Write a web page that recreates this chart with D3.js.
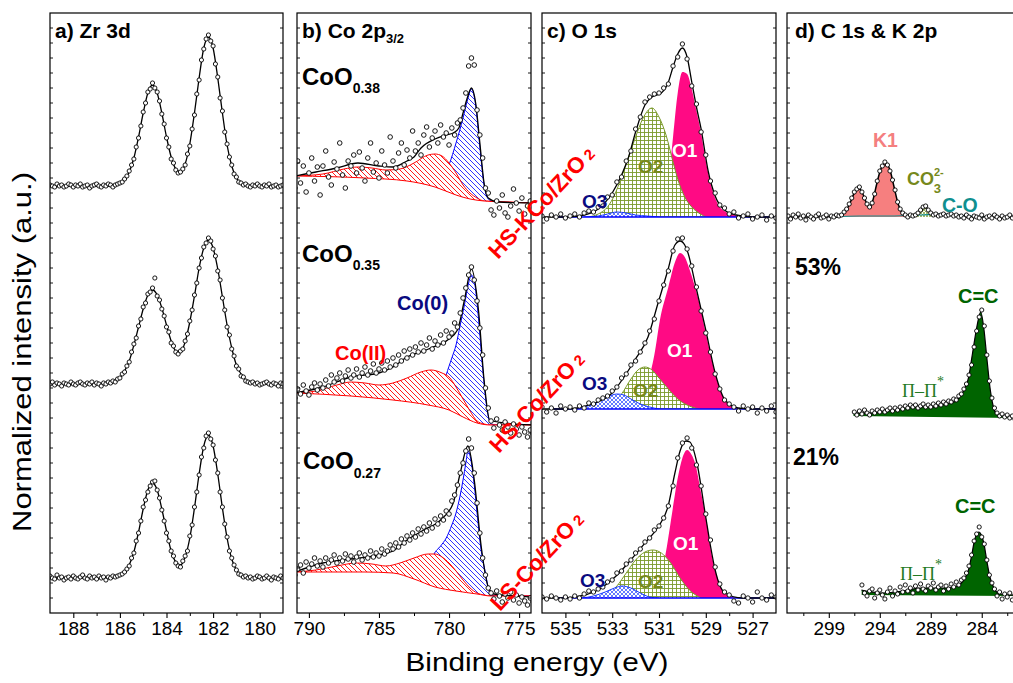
<!DOCTYPE html>
<html><head><meta charset="utf-8">
<script src="https://cdn.jsdelivr.net/npm/d3@7"></script>
<style>body{margin:0;background:#fff}svg{display:block;font-family:"Liberation Sans",Arial,sans-serif}</style>
</head><body>
<svg id="chart" width="1013" height="683"></svg>
<script>
// ---------------- DATA ----------------
// Panel a: Zr 3d, grid start/step (eV), heights above each spectrum's baseline
const zrStart = 189, zrStep = 0.2, zrDataStep = 0.1;
const zrOffset = [427, 229, 35];
const zrFitTop = [0,0,0,0,0,0,0,0,0,0, 0,0,0,0,1,2,6,14,28,49, 73,93,101,93,73,49,29,17,14,22, 42,73,108,138,149,138,108,73,41,20, 8,3,1,0,0,0,0,0,0,0, 0];
const zrFitMid = [0,0,0,0,0,0,0,0,0,0, 0,0,0,1,3,6,13,23,39,57, 75,89,94,89,76,59,43,33,32,42, 62,88,116,136,144,136,115,87,59,36, 19,10,4,2,1,0,0,0,0,0, 0];
const zrFitBot = [0,0,0,0,0,0,0,0,0,0, 0,0,0,0,1,2,5,13,26,46, 69,88,95,88,69,47,27,16,13,21, 40,70,104,132,143,132,104,70,40,19, 8,3,1,0,0,0,0,0,0,0, 0];
const zrDataTop = [1,0,-1,2,0,1,-1,0,2,1, -1,1,0,2,-1,0,1,-2,0,1, 2,0,-1,1,0,2,1,-1,1,2, 3,4,7,10,15,21,27,39,48,60, 74,83,94,97,103,98,94,85,72,62, 48,39,27,23,16,13,14,17,21,32, 40,57,71,92,106,126,137,147,151,145, 140,122,109,88,75,54,42,29,21,12, 9,4,3,1,2,0,-1,1,0,2, 0,-1,1,0,2,-1,0,1,-1,0,1];
const zrDataMid = [0,2,-1,1,0,-2,1,0,-1,2, 0,-1,1,2,0,-1,1,0,2,-1, 1,0,-2,1,0,2,1,3,2,5, 6,10,12,18,22,32,40,46,58,65, 77,81,90,92,96,106,88,84,75,68, 57,52,41,38,32,30,33,35,43,50, 63,74,89,101,116,126,137,141,146,143, 135,128,113,104,86,74,57,49,35,28, 18,15,8,7,3,2,1,2,0,1, -1,0,1,2,0,-1,1,0,-2,1,0];
const zrDataBot = [2,0,-1,3,0,1,-2,0,1,-1, 2,0,-1,1,3,0,-1,2,0,1, -1,2,0,1,-2,1,0,2,1,2, 3,4,6,9,12,20,25,37,45,57, 71,78,86,92,96,97,88,80,68,57, 45,37,27,22,15,12,11,17,22,27, 42,53,71,86,103,121,130,142,145,139, 133,118,105,86,71,54,41,27,20,13, 8,4,3,1,2,0,1,-1,0,2, 1,-1,0,2,0,-2,1,0,-1,2,0];

// Panel b: Co 2p3/2, [eV, intensity]
const coBgTop = [[791,437],[786,435],[783,432],[781,426],[779.5,418],[778.5,414],[777.5,412],[776,411],[774,410]];
const coIITop = [[791,437],[789,439],[787.5,444],[786.5,446],[785.5,445],[784.5,443],[783.5,444],[782.5,450],[781.5,458],[781,459],[780.5,457],[780,450],[779.5,440],[779,428],[778.5,420],[778,415],[777.5,412],[776,411],[774,410]];
const co0Top = [[781.5,428],[781,426],[780.5,431],[780,448],[779.5,470],[779,495],[778.7,512],[778.4,524],[778.1,508],[777.8,466],[777.5,428],[777.2,414],[776.8,411],[774,410]];
const coFitTop = [[791,437],[789.5,441],[788,445],[786.5,450],[785,447],[784,446],[783,452],[782.5,456],[782,465],[781,474],[780.2,478],[779.7,480],[779.3,485],[779,500],[778.7,515],[778.4,525],[778.1,510],[777.8,470],[777.5,430],[777.2,415],[776.5,411],[774,410]];
const coBgMid = [[791,220],[787,217],[784,213],[781.5,208],[780,203],[779,196],[778,190],[777,188],[774,188]];
const coIIMid = [[791,220],[789.5,222],[788,228],[787,231],[786,230],[785,228],[784,230],[783,235],[782,241],[781.3,243],[780.5,240],[780,236],[779.5,226],[779,214],[778.5,202],[778,192],[777.5,189],[777,188],[774,188]];
const co0Mid = [[781.5,208],[781,212],[780.5,222],[780.2,238],[779.8,255],[779.5,268],[779.2,288],[778.9,308],[778.6,330],[778.4,338],[778.2,332],[777.9,295],[777.6,245],[777.3,205],[777,189],[776.5,188],[774,188]];
const coFitMid = [[791,220],[789,226],[787,236],[785,240],[784,246],[783,256],[782,261],[781.3,265],[780.1,273],[779.4,283],[778.9,313],[778.4,344],[777.9,303],[777.5,233],[777.1,193],[776,190],[774,188]];
const coBgBot = [[791,41],[786,41],[784,40],[782.5,34],[781,26],[779.5,22],[778,19],[777,17],[774,17]];
const coIIBot = [[791,41],[789.5,43],[788,47],[786.6,50],[785.5,49],[784.5,47],[783.5,50],[782.5,55],[781.5,59],[781,59],[780.5,56],[780,50],[779.5,42],[779,33],[778.5,25],[778,20],[777.5,18],[777,17],[774,17]];
const co0Bot = [[782,32],[781.5,40],[781.1,58],[780.6,67],[780.2,75],[779.8,88],[779.5,100],[779.2,118],[779,133],[778.8,150],[778.65,162],[778.4,150],[778.2,128],[778,100],[777.7,62],[777.4,40],[777.2,25],[777,18],[776.5,17],[774,17]];
const coFitBot = [[791,41],[789,50],[787,54],[785,58],[784,62],[783,73],[781.8,83],[780.6,93],[779.7,110],[779.2,140],[778.65,167],[778.2,133],[777.7,66],[777.2,26],[776.8,19],[774,16]];
const coStart = 791, coStep = 0.2;
const coDataTop = [425,452,430,447,421,440,455,432,446,418, 447,462,436,428,451,444,470,438,425,452, 447,458,440,461,445,432,455,470,441,450, 435,462,448,440,476,452,445,460,470,448, 463,455,482,462,470,458,478,486,466,475, 482,470,488,476,480,468,485,478,490,493, 505,520,547,555,548,503,478,455,425,420, 403,398,412,405,418,400,396,407,424,410, 402,415,399,407,412,404];
const coDataMid = [215,224,219,228,222,218,226,230,223,229, 225,233,227,238,231,235,240,232,237,243, 235,238,244,236,240,246,238,242,249,240, 244,250,243,252,246,255,248,258,252,262, 255,264,258,266,261,270,262,268,275,264, 272,268,278,270,282,276,280,290,286,300, 315,325,338,346,333,312,285,258,225,205, 192,185,194,188,183,191,186,180,189,184, 178,186,181,176,183,179];
const coDataBot = [38,44,48,40,51,45,49,55,47,52, 46,55,50,53,58,50,55,52,59,54, 57,51,56,60,53,58,55,62,56,60, 57,64,59,62,68,64,70,66,74,70, 77,73,80,76,84,79,86,82,90,85, 94,89,97,93,102,99,112,118,128,140, 150,162,174,165,140,110,80,55,38,25, 20,14,22,17,11,19,15,21,13,18, 10,16,12,8,15,11];

// Panel c: O 1s, heights above baseline [eV, h]
const oOffset = [396, 204, 15];
const o1Top = [[531.0,0],[530.8,10],[530.6,35],[530.4,80],[530.2,124],[530.0,145],[529.8,143],[529.6,128],[529.4,106],[529.2,84],[529.0,56],[528.8,34],[528.6,19],[528.4,10],[528.2,6],[527.8,2],[527.4,0]];
const o2Top = [[534.0,0],[533.6,3],[533.2,10],[532.9,22],[532.6,40],[532.3,60],[532.0,80],[531.7,98],[531.3,109],[531.0,100],[530.7,82],[530.4,55],[530.2,38],[529.9,20],[529.6,10],[529.3,4],[529.0,0]];
const o3Top = [[534.2,0],[533.6,1],[533.2,3],[532.8,5],[532.4,4],[532.0,2],[531.5,1],[531.0,0]];
const oFitTop = [[536,0],[535,0],[534.2,2],[533.6,8],[533.0,24],[532.6,42],[532.3,60],[532.0,85],[531.6,112],[531.3,120],[530.9,124],[530.6,135],[530.4,150],[530.2,163],[530.0,169],[529.8,160],[529.6,135],[529.4,110],[529.2,88],[528.9,46],[528.6,21],[528.2,7],[527.7,2],[527,0],[526,0]];
const o1Mid = [[532.2,0],[531.8,8],[531.5,25],[531.2,54],[530.96,89],[530.6,122],[530.3,148],[530.1,156],[529.9,152],[529.7,140],[529.46,122],[529.2,98],[529.03,79],[528.8,55],[528.6,36],[528.4,20],[528.18,9],[527.9,3],[527.6,0]];
const o2Mid = [[533.4,0],[533.0,5],[532.6,15],[532.2,30],[531.9,39],[531.6,42],[531.3,39],[531.0,31],[530.6,20],[530.2,10],[529.8,4],[529.3,0]];
const o3Mid = [[534.6,0],[534.2,2],[533.8,5],[533.4,10],[533.0,14],[532.8,15],[532.5,14],[532.2,10],[531.8,5],[531.4,2],[531.0,0]];
const oFitMid = [[536,0],[535,0],[534.5,1],[534,4],[533.44,9],[533,16],[532.58,29],[532.03,49],[531.47,72],[531.04,106],[530.62,139],[530.32,164],[530.1,168],[529.9,164],[529.76,156],[529.46,126],[529.03,82],[528.6,36],[528.18,9],[527.62,1],[527,0],[526,0]];
const o1Bot = [[531.6,0],[531.2,8],[530.9,25],[530.74,41],[530.44,85],[530.2,120],[530.0,140],[529.8,148],[529.6,143],[529.46,135],[529.2,105],[529.03,85],[528.73,41],[528.5,20],[528.3,8],[528.0,2],[527.7,0]];
const o2Bot = [[533.7,0],[533.2,4],[532.8,12],[532.4,25],[532.0,38],[531.6,46],[531.26,48],[530.9,45],[530.5,35],[530.1,20],[529.7,8],[529.2,0]];
const o3Bot = [[534.3,0],[533.8,2],[533.3,6],[532.9,10],[532.58,12],[532.2,10],[531.8,5],[531.4,1],[531.0,0]];
const oFitBot = [[536,0],[535,0],[534.6,1],[534.16,3],[533.6,8],[533.18,15],[532.7,25],[532.32,35],[531.6,55],[531.04,71],[530.62,91],[530.32,125],[530.1,147],[529.85,157],[529.68,156],[529.38,135],[529.03,85],[528.8,52],[528.6,28],[528.18,5],[527.45,0],[526,0]];
const oStart = 536, oStep = 0.2;
const oDataTop = [1,-2,2,0,3,-1,1,3,0,4, 6,5,10,11,20,22,35,40,56,66, 88,100,115,120,123,124,129,133,151,160, 173,158,131,113,85,62,36,24,12,9, 3,5,-1,1,3,-2,0,2,-3,1, -1];
const oDataMid = [2,-3,1,-4,3,0,2,-1,3,1, 6,5,9,11,13,18,22,31,35,44, 48,57,66,78,90,108,124,138,158,170, 171,160,143,122,98,76,57,35,20,9, 5,2,-2,3,0,2,-4,1,-2,3, -3];
const oDataBot = [1,-1,2,0,-2,1,-1,2,0,4, 7,6,9,11,16,18,25,27,34,38, 45,49,56,60,68,72,80,92,112,140, 155,160,150,133,112,84,58,31,14,6, 3,-3,-5,2,0,-4,6,0,-2,3, 1];

// Panel d: C 1s & K 2p
const dOffsetTop = 396;
const k1Top = [[298.2,0],[297.6,3],[297.0,12],[296.5,24],[296.1,29],[295.7,24],[295.3,14],[295.0,10],[294.7,16],[294.3,33],[293.9,48],[293.4,54],[293.0,47],[292.6,30],[292.2,13],[291.8,4],[291.4,0]];
const co3Top = [[290.6,0],[290.2,4],[289.8,8],[289.6,10],[289.4,8],[289.0,4],[288.6,0]];
const cOTop = [[298.5,0],[296,1],[293,1],[290,2],[288,3],[286.5,2],[285,1],[283.5,0]];
const dFitTop = [[303,0],[298.2,0],[297.6,3],[297.0,12],[296.5,24],[296.1,29],[295.7,24],[295.3,14],[295.0,10],[294.7,16],[294.3,33],[293.9,48],[293.4,54],[293.0,47],[292.6,30],[292.2,13],[291.8,4],[291.4,1],[290.6,1],[290.2,5],[289.8,9],[289.6,11],[289.4,9],[289.0,5],[288.6,2],[287.5,2],[286.5,2],[285.5,0],[280,0]];
const dBgMid = [[296.6,197],[280,195]];
const dFitMid = [[296.6,200],[295,200],[293.9,201],[292.5,203],[291.2,206],[290.2,206],[289,206],[288,208],[287,210],[286.3,214],[285.8,222],[285.3,235],[284.9,260],[284.5,285],[284.1,301],[283.8,285],[283.5,255],[283.2,226],[282.9,208],[282.6,200],[282,198],[280.8,196],[280,196]];
const dBgBot = [[295.8,18],[280,17]];
const dFitBot = [[295.8,23],[294.8,21],[293.9,20],[292.5,21],[291.2,23],[290,25],[288.9,25],[287.8,25],[286.7,26],[286,30],[285.6,36],[285.3,43],[285,57],[284.7,73],[284.3,81],[284,77],[283.8,70],[283.5,52],[283.2,36],[282.8,25],[282.4,20],[281.5,18],[280,18]];
const dStep = 0.25;
const dStartTop = 303, dStartMid = 296.5, dStartBot = 295.75;
const dDataTop = [1,-2,2,0,3,-1,1,-3,2,0, -2,1,3,-1,0,2,-2,1,0,2, 1,2,5,8,13,19,25,28,30,25, 19,13,10,14,23,36,46,51,55,52, 46,37,27,15,8,4,2,0,2,1, 2,4,7,10,11,7,4,2,3,1, 2,3,1,2,3,1,2,0,1,-1, 2,0,-2,1,0,-1,2,-2,0,1, -1,2,0,-2,1,-1,0,2,-1,1, -2,0,1];
const dDataMid = [201,198,202,199,203,200,198,202,200,203, 201,204,201,203,205,202,205,203,206,204, 207,205,208,206,208,205,207,209,206,208, 206,209,207,210,208,211,209,212,211,214, 213,217,219,224,229,238,248,266,282,296, 303,287,258,232,215,205,200,197,199,196, 198,195,197,194,197,195,196];
const dDataBot = [28,20,17,22,24,15,20,23,18,14, 21,25,17,22,19,26,21,28,22,25, 20,27,23,29,24,22,27,25,30,23, 26,28,22,27,24,29,26,31,28,33, 35,40,47,58,72,79,86,76,69,53, 38,30,24,17,21,14,19,16,20,13, 18,15,19,17];

// Tick labels
const ticksA = [188,186,184,182,180], minorA = [187,185,183,181];
const ticksB = [790,785,780,775], minorB = [787.5,782.5,777.5];
const ticksC = [535,533,531,529,527], minorC = [534,532,530,528];
const ticksD = [299,294,289,284], minorD = [301.5,296.5,291.5,286.5,281.5];

// ---------------- DRAWING ----------------
const FONT = '"Liberation Sans",Arial,sans-serif';
const svg = d3.select('#chart');
const defs = svg.append('defs');
const TOP = 13, BOT = 613;
const y = d3.scaleLinear().domain([0, 600]).range([BOT, TOP]);
const xA = d3.scaleLinear().domain([189, 179]).range([50, 283]);
const xB = d3.scaleLinear().domain([790.85, 774.15]).range([297, 531]);
const xC = d3.scaleLinear().domain([536, 526]).range([542, 776]);
const xD = d3.scaleLinear().domain([303.1, 280.15]).range([787, 1021]);

function pattern(id, s, d, color, sw) {
  const p = defs.append('pattern').attr('id', id).attr('patternUnits', 'userSpaceOnUse').attr('width', s).attr('height', s);
  p.append('rect').attr('width', s).attr('height', s).attr('fill', '#fff');
  p.append('path').attr('d', d).attr('stroke', color).attr('stroke-width', sw).attr('fill', 'none');
}
pattern('hRed', 5, 'M-1,-1L6,6M-1,4L1,6M4,-1L6,1', '#ff0000', 0.9);
pattern('hBlue', 5, 'M-1,-1L6,6M-1,4L1,6M4,-1L6,1', '#1a1aff', 0.9);
pattern('gOlive', 4, 'M0,0.5H4M0.5,0V4', '#7a9a2a', 0.9);
pattern('xBlue', 4, 'M-1,-1L5,5M5,-1L-1,5', '#2040ff', 0.7);
pattern('xOlive', 3, 'M-1,-1L4,4M4,-1L-1,4', '#7a9a2a', 0.7);

const lineFor = x => d3.line().x(d => x(d[0])).y(d => y(d[1])).curve(d3.curveMonotoneX);
const off = (pts, o) => pts.map(p => [p[0], p[1] + o]);
const grid = (start, step, vals, o) => vals.map((v, i) => [start - i * step, v + (o || 0)]);
let cid = 0;
function band(g, x, topPts, botPts, fill, stroke, sw) {
  const L = lineFor(x), id = 'bc' + (cid++);
  const b0 = x(botPts[0][0]), b1 = x(botPts[botPts.length - 1][0]);
  defs.append('clipPath').attr('id', id).append('path').attr('d', L(botPts) + `L${b1},-100L${b0},-100Z`);
  const t0 = x(topPts[0][0]), t1 = x(topPts[topPts.length - 1][0]);
  const gg = g.append('g').attr('clip-path', `url(#${id})`);
  gg.append('path').attr('d', L(topPts) + `L${t1},800L${t0},800Z`).attr('fill', fill);
  if (stroke) gg.append('path').attr('d', L(topPts)).attr('fill', 'none').attr('stroke', stroke).attr('stroke-width', sw || 1);
}
function curve(g, x, pts, color, sw) {
  g.append('path').attr('d', lineFor(x)(pts)).attr('fill', 'none').attr('stroke', color).attr('stroke-width', sw || 1.2);
}
function dots(g, x, pts, r) {
  g.append('g').selectAll('circle').data(pts).join('circle')
    .attr('cx', d => x(d[0])).attr('cy', d => y(d[1])).attr('r', r || 2.2)
    .attr('fill', '#fff').attr('stroke', '#000').attr('stroke-width', 0.9);
}
function panelGroup(x) {
  const [l, r] = x.range(), id = 'pc' + (cid++);
  defs.append('clipPath').attr('id', id).append('rect').attr('x', l).attr('y', TOP).attr('width', r - l).attr('height', BOT - TOP);
  return svg.append('g').attr('clip-path', `url(#${id})`);
}
function frame(x, major, minor) {
  const [l, r] = x.range();
  const g = svg.append('g').attr('transform', `translate(0,${BOT})`);
  g.call(d3.axisBottom(x).tickValues(major).tickSize(5).tickPadding(3.5).tickFormat(d3.format('d')));
  g.select('.domain').remove();
  g.selectAll('line').attr('stroke-width', 1.1);
  g.selectAll('text').attr('font-size', 19).attr('font-family', FONT).attr('fill', '#000');
  const g2 = svg.append('g').attr('transform', `translate(0,${BOT})`);
  g2.call(d3.axisBottom(x).tickValues(minor).tickSize(3).tickFormat(''));
  g2.select('.domain').remove();
  const side = svg.append('g').attr('stroke', '#000').attr('stroke-width', 0.9);
  for (let yy = BOT - 15; yy > TOP + 3; yy -= 15) {
    side.append('line').attr('x1', l).attr('x2', l + 3).attr('y1', yy).attr('y2', yy);
    side.append('line').attr('x1', r - 3).attr('x2', r).attr('y1', yy).attr('y2', yy);
  }
  svg.append('rect').attr('x', l).attr('y', TOP).attr('width', r - l).attr('height', BOT - TOP)
    .attr('fill', 'none').attr('stroke', '#000').attr('stroke-width', 1.2);
}

// ---- Panel a
{
  const g = panelGroup(xA);
  const fits = [zrFitTop, zrFitMid, zrFitBot], data = [zrDataTop, zrDataMid, zrDataBot];
  fits.forEach((f, i) => {
    curve(g, xA, grid(zrStart, zrStep, f, zrOffset[i]), '#000', 1.3);
    dots(g, xA, grid(zrStart, zrDataStep, data[i], zrOffset[i]), 2.1);
  });
}
// ---- Panel b
{
  const g = panelGroup(xB);
  const sets = [
    [coBgTop, coIITop, co0Top, coFitTop, coDataTop],
    [coBgMid, coIIMid, co0Mid, coFitMid, coDataMid],
    [coBgBot, coIIBot, co0Bot, coFitBot, coDataBot]];
  sets.forEach(([bg, c2, c0, fit, dat]) => {
    band(g, xB, c0, bg, 'url(#hBlue)', '#0000ff', 1);
    band(g, xB, c2, bg, 'url(#hRed)', '#ff0000', 1);
    curve(g, xB, bg, '#ff0000', 1);
    curve(g, xB, fit, '#000', 1.3);
    dots(g, xB, grid(coStart, coStep, dat), 2.3);
  });
}
// ---- Panel c
{
  const g = panelGroup(xC);
  const sets = [
    [o1Top, o2Top, o3Top, oFitTop, oDataTop],
    [o1Mid, o2Mid, o3Mid, oFitMid, oDataMid],
    [o1Bot, o2Bot, o3Bot, oFitBot, oDataBot]];
  sets.forEach(([c1, c2, c3, fit, dat], i) => {
    const o = oOffset[i], base = [[536, o], [526, o]];
    band(g, xC, off(c1, o), base, '#ff0a84', null);
    band(g, xC, off(c2, o), base, 'url(#gOlive)', '#7a9a2a', 1);
    band(g, xC, off(c3, o), base, 'url(#xBlue)', '#1a3aff', 1);
    curve(g, xC, [[535.5, o], [526, o]], '#0000ff', 1.3);
    curve(g, xC, off(fit, o), '#000', 1.3);
    dots(g, xC, grid(oStart, oStep, dat, o), 2.2);
  });
}
// ---- Panel d
{
  const g = panelGroup(xD);
  const o = dOffsetTop, base = [[303.1, o], [280, o]];
  band(g, xD, off(k1Top, o), base, '#f67f7f', null);
  band(g, xD, off(co3Top, o), base, 'url(#xOlive)', '#6b8a1a', 1);
  curve(g, xD, off(cOTop, o), '#108f8f', 1.2);
  curve(g, xD, off(dFitTop, o), '#000', 1.5);
  dots(g, xD, grid(dStartTop, dStep, dDataTop, o), 2.1);
  band(g, xD, dFitMid, dBgMid, '#006400', null);
  curve(g, xD, dFitMid, '#000', 1.2);
  dots(g, xD, grid(dStartMid, dStep, dDataMid), 2.1);
  band(g, xD, dFitBot, dBgBot, '#006400', null);
  curve(g, xD, dFitBot, '#000', 1.2);
  dots(g, xD, grid(dStartBot, dStep, dDataBot), 2.1);
}

frame(xA, ticksA, minorA);
frame(xB, ticksB, minorB);
frame(xC, ticksC, minorC);
frame(xD, ticksD, minorD);

// ---------------- TEXT ----------------
function label(x0, y0, parts, opt) {
  const t = svg.append('text').attr('x', x0).attr('y', y0).attr('font-family', opt.family || FONT)
    .attr('font-size', opt.size).attr('font-weight', opt.weight || 'bold').attr('fill', opt.color || '#000');
  if (opt.transform) t.attr('transform', opt.transform);
  parts.forEach(p => {
    if (typeof p === 'string') t.append('tspan').text(p);
    else {
      const s = t.append('tspan').text(p.t).attr('font-size', p.size).attr('dy', p.dy || 0);
      if (p.dx) s.attr('dx', p.dx);
      if (p.fill) s.attr('fill', p.fill);
    }
  });
  return t;
}
label(55, 38, ['a) Zr 3d'], {size: 21});
label(302, 38, ['b) Co 2p', {t: '3/2', size: 13, dy: 5}], {size: 21});
label(547, 38, ['c) O 1s'], {size: 21});
label(795, 38, ['d) C 1s & K 2p'], {size: 21});

label(302, 85, ['CoO', {t: '0.38', size: 14, dy: 8}], {size: 24});
label(302, 262, ['CoO', {t: '0.35', size: 14, dy: 8}], {size: 24});
label(303, 469, ['CoO', {t: '0.27', size: 14, dy: 9}], {size: 24});
label(397, 310, ['Co(0)'], {size: 20, color: '#0a0a80'});
label(335, 360, ['Co(II)'], {size: 20, color: '#ff0000'});

label(672, 157, ['O1'], {size: 19, color: '#fff'});
label(638, 173, ['O2'], {size: 19, color: '#76891c'});
label(582, 208, ['O3'], {size: 19, color: '#0a0a80'});
label(667, 357, ['O1'], {size: 19, color: '#fff'});
label(633, 397, ['O2'], {size: 19, color: '#76891c'});
label(582, 390, ['O3'], {size: 19, color: '#0a0a80'});
label(673, 550, ['O1'], {size: 19, color: '#fff'});
label(638, 588, ['O2'], {size: 19, color: '#76891c'});
label(580, 587, ['O3'], {size: 19, color: '#0a0a80'});

label(873, 147, ['K1'], {size: 19.5, color: '#f47f7f'});
label(907, 185, ['CO', {t: '2-', size: 11, dy: -9}, {t: '3', size: 13, dy: 17, dx: -10}], {size: 18, color: '#76891c'});
label(942, 212, ['C-O'], {size: 19.5, color: '#108f8f'});
label(795, 275, ['53%'], {size: 23});
label(793, 465, ['21%'], {size: 23});
label(958, 303, ['C=C'], {size: 20, color: '#006400'});
label(955, 513, ['C=C'], {size: 20, color: '#006400'});
label(902, 397, ['Π–Π', {t: '*', size: 14, dy: -11}], {size: 18, weight: 'normal', family: '"Liberation Serif","DejaVu Serif",serif', color: '#237a23'});
label(900, 580, ['Π–Π', {t: '*', size: 14, dy: -11}], {size: 18, weight: 'normal', family: '"Liberation Serif","DejaVu Serif",serif', color: '#237a23'});

// rotated sample labels
const rotLabels = [['HS-KCo/ZrO', 498, 260], ['HS-Co/ZrO', 499, 454], ['LS-Co/ZrO', 500, 612]];
rotLabels.forEach(([s, x0, y0]) => {
  label(0, 0, [s, {t: ' 2', size: 15}], {size: 22.5, color: '#ff0000', transform: `translate(${x0},${y0}) rotate(-47)`});
});

// axis titles
svg.append('text').attr('x', 537).attr('y', 671).attr('text-anchor', 'middle').attr('font-family', FONT)
  .attr('font-size', 26).attr('textLength', 263).attr('lengthAdjust', 'spacingAndGlyphs').text('Binding energy (eV)');
svg.append('text').attr('transform', 'translate(31,352) rotate(-90)').attr('text-anchor', 'middle').attr('font-family', FONT)
  .attr('font-size', 26).attr('textLength', 360).attr('lengthAdjust', 'spacingAndGlyphs').text('Normalized intensity (a.u.)');
</script>
</body></html>
